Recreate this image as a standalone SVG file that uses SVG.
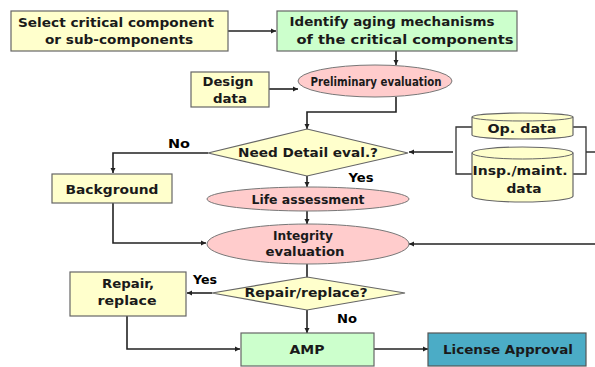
<svg xmlns="http://www.w3.org/2000/svg" width="595" height="367" viewBox="0 0 595 367">
<style>
.t{font-family:"DejaVu Sans","Liberation Sans",Arial,sans-serif;font-weight:bold;font-size:13px;fill:#1a1a1a;text-anchor:middle}
.s{font-size:11.5px}
.y{fill:#FFFFCC;stroke:#666;stroke-width:1.2}
.g{fill:#CCFFCC;stroke:#666;stroke-width:1.2}
.p{fill:#FFCCCC;stroke:#777;stroke-width:1}
.b{fill:#4BACC6;stroke:#555;stroke-width:1.2}
.c{fill:none;stroke:#222;stroke-width:1.6}
.cb{fill:none;stroke:#333;stroke-width:1.3}
.lbl{font-family:"DejaVu Sans","Liberation Sans",Arial,sans-serif;font-weight:bold;font-size:13px;fill:#000;text-anchor:middle}
</style>
<defs>
<marker id="a" markerWidth="6" markerHeight="6" refX="5" refY="3" orient="auto" markerUnits="userSpaceOnUse">
<path d="M0,0.5 L5,3 L0,5.5 Z" fill="#222"/>
</marker>
</defs>
<rect width="595" height="367" fill="#fff"/>
<g id="connectors">
<path class="c" d="M228,31 H276" marker-end="url(#a)"/>
<path class="c" d="M396,51 V65" marker-end="url(#a)"/>
<path class="c" d="M269,89 H298" marker-end="url(#a)"/>
<path class="c" d="M396,97 V112 H307 V129" marker-end="url(#a)"/>
<path class="c" d="M208,153 H113 V173" marker-end="url(#a)"/>
<path class="c" d="M453,152 H409" marker-end="url(#a)"/>
<path class="cb" d="M472,127 H456 V174 H472 M573,127 H586 V174 H573 M586,152 H595"/>
<path class="c" d="M307,176 V187" marker-end="url(#a)"/>
<path class="c" d="M307,210 V224" marker-end="url(#a)"/>
<path class="c" d="M113,203 V243 H206" marker-end="url(#a)"/>
<path class="c" d="M595,244 H409" marker-end="url(#a)"/>
<path class="c" d="M307,264 V277"/>
<path class="c" d="M212,293 H187" marker-end="url(#a)"/>
<path class="c" d="M307,310 V333" marker-end="url(#a)"/>
<path class="c" d="M127,316 V349 H240" marker-end="url(#a)"/>
<path class="c" d="M374,349 H428" marker-end="url(#a)"/>
<text class="lbl" x="179" y="148" textLength="22" lengthAdjust="spacingAndGlyphs">No</text>
<text class="lbl" x="361" y="182" textLength="25" lengthAdjust="spacingAndGlyphs">Yes</text>
<text class="lbl" x="205" y="284" textLength="24" lengthAdjust="spacingAndGlyphs">Yes</text>
<text class="lbl" x="347" y="323" textLength="20" lengthAdjust="spacingAndGlyphs">No</text>
</g>
<g id="select">
<rect class="y" x="11" y="11" width="217" height="40"/>
<text class="t" x="116" y="27" textLength="196" lengthAdjust="spacingAndGlyphs">Select critical component</text>
<text class="t" x="119" y="44" textLength="148" lengthAdjust="spacingAndGlyphs">or sub-components</text>
</g>
<g id="identify">
<rect class="g" x="277" y="11" width="240" height="40"/>
<text class="t" x="392" y="26" textLength="205" lengthAdjust="spacingAndGlyphs">Identify aging mechanisms</text>
<text class="t" x="405" y="44" textLength="217" lengthAdjust="spacingAndGlyphs">of the critical components</text>
</g>
<g id="design">
<rect class="y" x="191" y="72" width="78" height="35"/>
<text class="t" x="228" y="86" textLength="51" lengthAdjust="spacingAndGlyphs">Design</text>
<text class="t" x="230" y="103" textLength="34" lengthAdjust="spacingAndGlyphs">data</text>
</g>
<g id="prelim">
<ellipse class="p" cx="375" cy="81" rx="77" ry="16"/>
<text class="t s" x="376" y="86" textLength="131" lengthAdjust="spacingAndGlyphs">Preliminary evaluation</text>
</g>
<g id="need">
<polygon class="y" points="307,129 408,153 307,176 208,153"/>
<text class="t s" x="308" y="157" textLength="140" lengthAdjust="spacingAndGlyphs">Need Detail eval.?</text>
</g>
<g id="opdata">
<path class="y" d="M472,117 A50.5,4 0 0 1 573,117 V135 A50.5,4 0 0 1 472,135 Z"/>
<path fill="none" stroke="#666" stroke-width="1" d="M472,117 A50.5,4 0 0 0 573,117"/>
<text class="t" x="522" y="133" textLength="69" lengthAdjust="spacingAndGlyphs">Op. data</text>
</g>
<g id="inspdata">
<path class="y" d="M472,153 A50.5,6 0 0 1 573,153 V196 A50.5,6 0 0 1 472,196 Z"/>
<path fill="none" stroke="#666" stroke-width="1" d="M472,153 A50.5,6 0 0 0 573,153"/>
<text class="t" x="520" y="175" textLength="95" lengthAdjust="spacingAndGlyphs">Insp./maint.</text>
<text class="t" x="524" y="193" textLength="35" lengthAdjust="spacingAndGlyphs">data</text>
</g>
<g id="background">
<rect class="y" x="52" y="174" width="120" height="29"/>
<text class="t" x="112" y="194" textLength="93" lengthAdjust="spacingAndGlyphs">Background</text>
</g>
<g id="life">
<ellipse class="p" cx="308" cy="199" rx="101" ry="12"/>
<text class="t s" x="308" y="204" textLength="113" lengthAdjust="spacingAndGlyphs">Life assessment</text>
</g>
<g id="integrity">
<ellipse class="p" cx="308" cy="244" rx="101" ry="20"/>
<text class="t s" x="303" y="240" textLength="60" lengthAdjust="spacingAndGlyphs">Integrity</text>
<text class="t s" x="305" y="256" textLength="79" lengthAdjust="spacingAndGlyphs">evaluation</text>
</g>
<g id="repairq">
<polygon class="y" points="307,277 405,293 307,310 212,293"/>
<text class="t s" x="306" y="297" textLength="123" lengthAdjust="spacingAndGlyphs">Repair/replace?</text>
</g>
<g id="repair">
<rect class="y" x="70" y="272" width="116" height="44"/>
<text class="t" x="128" y="288" textLength="52" lengthAdjust="spacingAndGlyphs">Repair,</text>
<text class="t" x="127" y="305" textLength="59" lengthAdjust="spacingAndGlyphs">replace</text>
</g>
<g id="amp">
<rect class="g" x="241" y="333" width="133" height="33"/>
<text class="t" x="307" y="354" textLength="35" lengthAdjust="spacingAndGlyphs">AMP</text>
</g>
<g id="license">
<rect class="b" x="428" y="333" width="158" height="33"/>
<text class="t" x="508" y="354" textLength="130" lengthAdjust="spacingAndGlyphs">License Approval</text>
</g>
</svg>
